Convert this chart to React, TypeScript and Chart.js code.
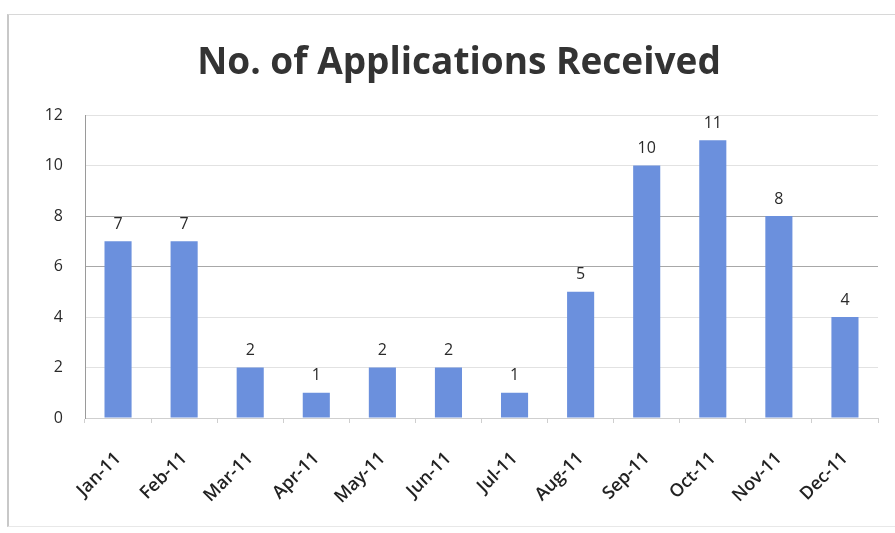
import React, { useEffect, useRef } from "react";
import { Chart, registerables } from "chart.js";

Chart.register(...registerables);

const TITLE = "No. of Applications Received";
const months = ["Jan-11", "Feb-11", "Mar-11", "Apr-11", "May-11", "Jun-11", "Jul-11", "Aug-11", "Sep-11", "Oct-11", "Nov-11", "Dec-11"];
const applications = [7, 7, 2, 1, 2, 2, 1, 5, 10, 11, 8, 4];
const yMin = 0;
const yMax = 12;
const yStep = 2;

const FONT = "'Open Sans', Lato, sans-serif";

const valueLabels = {
  id: "valueLabels",
  afterDatasetsDraw(chart: any) {
    const ctx = chart.ctx;
    const meta = chart.getDatasetMeta(0);
    ctx.save();
    ctx.fillStyle = "#2a2a2a";
    ctx.font = `16px ${FONT}`;
    ctx.textAlign = "center";
    ctx.textBaseline = "bottom";
    meta.data.forEach((bar: any, i: number) => {
      ctx.fillText(String(chart.data.datasets[0].data[i]), bar.x, bar.y - 9);
    });
    ctx.restore();
  },
};

const titlePlugin = {
  id: "customTitle",
  afterDraw(chart: any) {
    const ctx = chart.ctx;
    ctx.save();
    ctx.fillStyle = "#333333";
    ctx.font = `bold 37px ${FONT}`;
    ctx.textAlign = "center";
    ctx.textBaseline = "middle";
    ctx.fillText(TITLE, 459, 63);
    ctx.restore();
  },
};

export default function App() {
  const ref = useRef<HTMLCanvasElement>(null);
  useEffect(() => {
    if (!ref.current) return;
    const chart = new Chart(ref.current, {
      type: "bar",
      data: {
        labels: months,
        datasets: [
          {
            data: applications,
            backgroundColor: "#6b90dd",
            borderWidth: 0,
            barPercentage: 0.41,
            categoryPercentage: 1,
          },
        ],
      },
      options: {
        animation: false,
        responsive: false,
        devicePixelRatio: 1,
        layout: { padding: { left: 0, right: 17, top: 115, bottom: 0 } },
        plugins: { legend: { display: false }, title: { display: false }, tooltip: { enabled: false } },
        scales: {
          x: {
            offset: true,
            grid: { drawOnChartArea: false, drawTicks: true, tickLength: 5, color: "#cfcfcf" },
            border: { color: "#cfcfcf" },
            ticks: {
              color: "#222",
              font: { family: FONT, size: 18, weight: 600 },
              maxRotation: 45,
              minRotation: 45,
              autoSkip: false,
              padding: 25,
            },
            afterFit(scale: any) {
              scale.height = 115;
            },
          },
          y: {
            min: yMin,
            max: yMax,
            grid: {
              drawTicks: false,
              color: (c: any) => (c.tick && (c.tick.value === 6 || c.tick.value === 8) ? "#a8a8a8" : "#e2e2e2"),
            },
            border: { display: true, color: "#9a9a9a" },
            ticks: {
              stepSize: yStep,
              color: "#2a2a2a",
              font: { family: FONT, size: 16 },
              padding: 22,
            },
            afterFit(scale: any) {
              scale.width = 85;
            },
          },
        },
      },
      plugins: [valueLabels, titlePlugin],
    });
    return () => chart.destroy();
  }, []);
  return (
    <div style={{ position: "fixed", left: 0, top: 0, width: 895, height: 533, background: "#fff" }}>
      <div
        style={{
          position: "absolute",
          left: 7,
          top: 14,
          width: 900,
          height: 511,
          borderLeft: "2px solid #c8c8c8",
          borderTop: "1px solid #d8d8d8",
          borderBottom: "1px solid #e8e8e8",
        }}
      />
      <canvas ref={ref} width={895} height={533} style={{ position: "absolute", left: 0, top: 0 }} />
    </div>
  );
}
